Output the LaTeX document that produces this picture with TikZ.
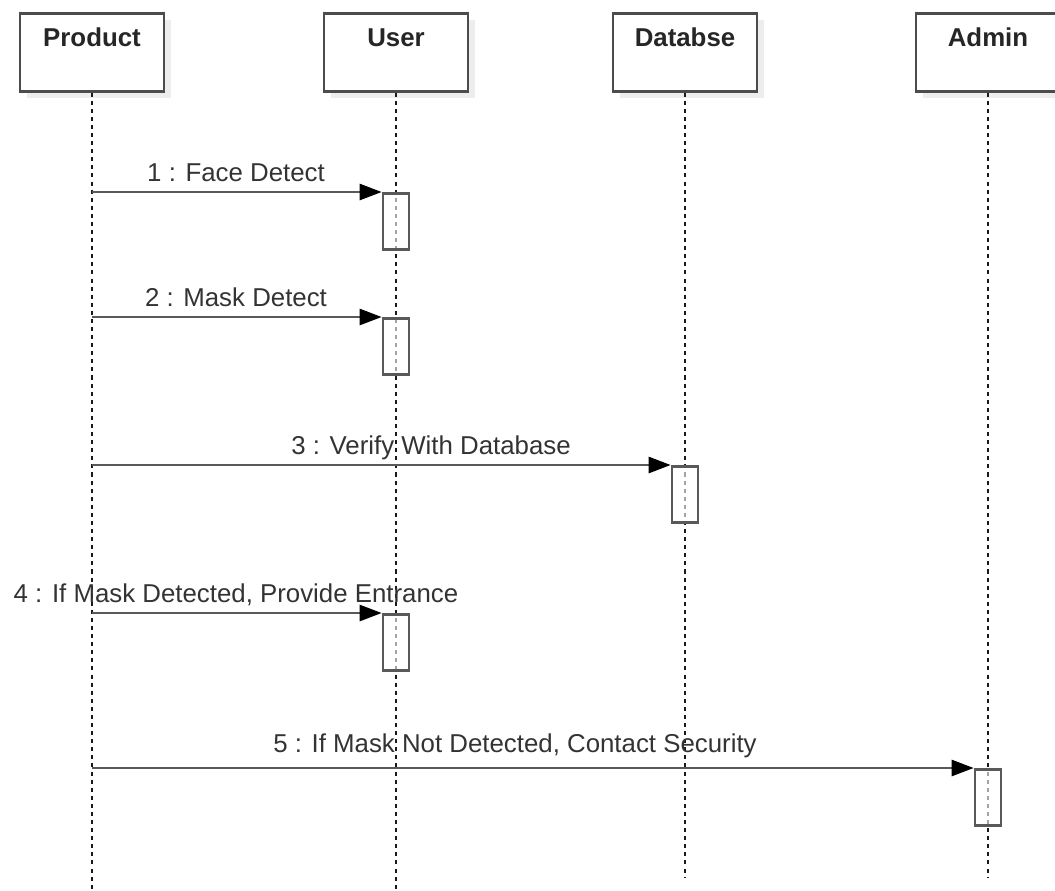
\documentclass[tikz,border=0pt]{standalone}
\usepackage{fontspec}
\setmainfont{Liberation Sans}
\usetikzlibrary{arrows.meta,shadows}

\tikzset{
  head/.style={draw=black!70,line width=1.5pt,fill=white,anchor=north,minimum width=2.88cm,inner xsep=0pt,inner ysep=0pt,text height=0.66cm,text depth=0.9cm,font=\fontsize{14.7}{17}\selectfont\bfseries,text=black!85,drop shadow={shadow xshift=0.14cm,shadow yshift=-0.14cm,fill=black!7,opacity=1}},
  life/.style={dash pattern=on 2.3pt off 2.3pt,line width=1.1pt,black!90},
  act/.style={draw=black!65,line width=1.5pt,fill=white,fill opacity=0.6,minimum width=0.52cm,minimum height=1.12cm,inner sep=0pt,anchor=north},
  msg/.style={draw=black!65,line width=1.5pt,-{Triangle[length=0.44cm,width=0.32cm,color=black]}},
  lbl/.style={anchor=base,inner sep=0pt,font=\fontsize{14.7}{17}\selectfont,text=black!80}
}

\begin{document}
\begin{tikzpicture}[x=0.02cm,y=-0.02cm]
\useasboundingbox (0,0) rectangle (1055,890);
% headers
\node[head] (product) at (92,12) {Product};
\node[head] (user) at (396,12) {User};
\node[head] (db) at (685,12) {Databse};
\node[head] (admin) at (988,12) {Admin};
% lifelines
\coordinate (productend) at (92,890);
\coordinate (userend) at (396,890);
\coordinate (dbend) at (685,877);
\coordinate (adminend) at (988,877);
\draw[life] (product) -- (productend);
\draw[life] (user) -- (userend);
\draw[life] (db) -- (dbend);
\draw[life] (admin) -- (adminend);
% activations
\node[act] (act1) at (396,192) {};
\node[act] (act2) at (396,317) {};
\node[act] (act3) at (685,465) {};
\node[act] (act4) at (396,613) {};
\node[act] (act5) at (988,768) {};
% messages
\draw[msg] (product.south |- act1.north) -- (act1.north west);
\draw[msg] (product.south |- act2.north) -- (act2.north west);
\draw[msg] (product.south |- act3.north) -- (act3.north west);
\draw[msg] (product.south |- act4.north) -- (act4.north west);
\draw[msg] (product.south |- act5.north) -- (act5.north west);
% labels
\node[lbl] (lbl1) at (236,181) {1 : Face Detect};
\node[lbl] (lbl2) at (236,306) {2 : Mask Detect};
\node[lbl] (lbl3) at (431,454) {3 : Verify With Database};
\node[lbl] (lbl4) at (236,602) {4 : If Mask Detected, Provide Entrance};
\node[lbl] (lbl5) at (515,752) {5 : If Mask Not Detected, Contact Security};
\end{tikzpicture}
\end{document}
